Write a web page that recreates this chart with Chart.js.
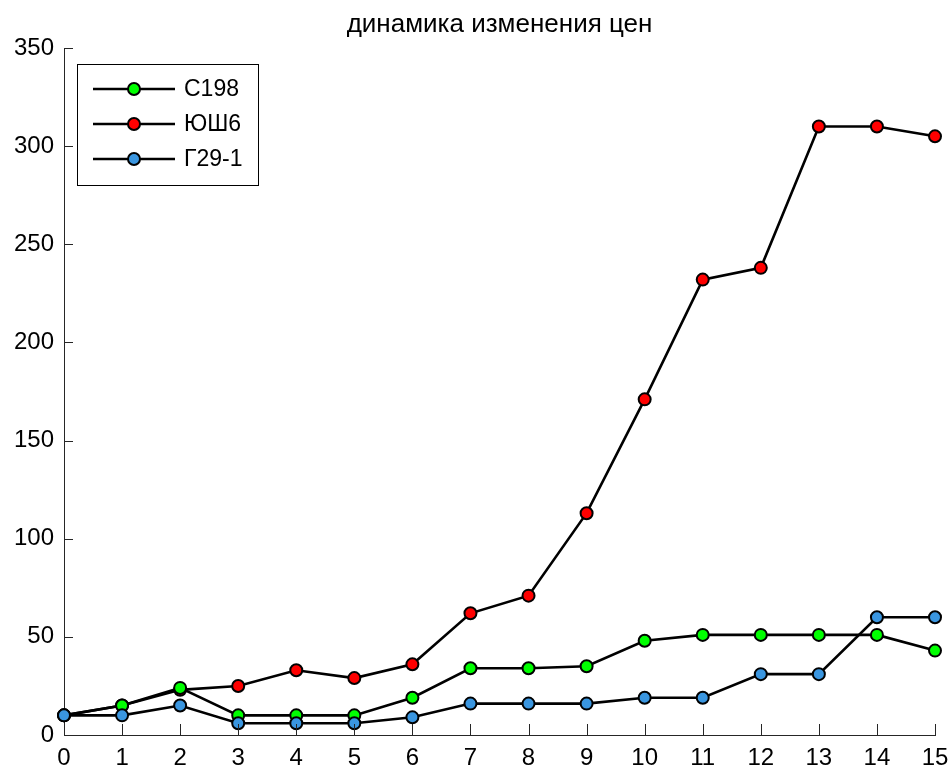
<!DOCTYPE html>
<html>
<head>
<meta charset="utf-8">
<script src="https://cdn.jsdelivr.net/npm/chart.js@4"></script>
<style>
  html, body { margin: 0; padding: 0; background: #fff; }
  #chart { display: block; }
</style>
</head>
<body>
<canvas id="chart" width="948" height="766"></canvas>
<script>
// данные графика
const titleText = 'динамика изменения цен';
const xValues = [0, 1, 2, 3, 4, 5, 6, 7, 8, 9, 10, 11, 12, 13, 14, 15];
const seriesNames = ['С198', 'ЮШ6', 'Г29-1'];
const c198 = [10, 15, 24, 10, 10, 10, 19, 34, 34, 35, 48, 51, 51, 51, 51, 43];
const yush6 = [10, 15, 23, 25, 33, 29, 36, 62, 71, 113, 171, 232, 238, 310, 310, 305];
const g29 = [10, 10, 15, 6, 6, 6, 9, 16, 16, 16, 19, 19, 31, 31, 60, 60];
const yTicks = [0, 50, 100, 150, 200, 250, 300, 350];

const markerColors = ['#00ff00', '#ff0000', '#3a96e0'];
const drawOrder = [1, 2, 0]; // синий сверху, красный снизу
const axisColor = '#262626';
const FONT = "'Liberation Sans', Arial, sans-serif";

const toPoints = arr => arr.map((v, i) => ({ x: xValues[i], y: v }));

const datasets = [c198, yush6, g29].map((arr, i) => ({
  label: seriesNames[i],
  data: toPoints(arr),
  borderColor: '#000',
  borderWidth: 2.6,
  pointRadius: 6,
  pointBorderWidth: 2,
  pointBackgroundColor: markerColors[i],
  pointBorderColor: '#000',
  order: drawOrder[i],
  clip: false,
  tension: 0
}));

// заголовок, засечки внутрь и легенда в стиле MATLAB
const matlabStyle = {
  id: 'matlabStyle',
  afterDraw(chart) {
    const ctx = chart.ctx;
    const area = chart.chartArea;
    const xs = chart.scales.x, ys = chart.scales.y;
    ctx.save();

    // заголовок
    ctx.fillStyle = '#000';
    ctx.font = '26px ' + FONT;
    ctx.textAlign = 'center';
    ctx.textBaseline = 'middle';
    ctx.fillText(titleText, (area.left + area.right) / 2, 25);

    // засечки
    ctx.strokeStyle = axisColor;
    ctx.lineWidth = 1;
    ctx.beginPath();
    xValues.forEach(v => {
      const px = Math.round(xs.getPixelForValue(v)) + 0.5;
      ctx.moveTo(px, area.bottom);
      ctx.lineTo(px, area.bottom - 11);
    });
    yTicks.forEach(v => {
      const py = Math.round(ys.getPixelForValue(v)) + 0.5;
      ctx.moveTo(area.left, py);
      ctx.lineTo(area.left + 9, py);
    });
    ctx.stroke();

    // легенда
    const bx = 77, by = 64, bw = 181, bh = 121;
    ctx.fillStyle = '#fff';
    ctx.fillRect(bx, by, bw, bh);
    ctx.strokeStyle = '#000';
    ctx.lineWidth = 1;
    ctx.strokeRect(bx + 0.5, by + 0.5, bw, bh);
    ctx.font = '23px ' + FONT;
    ctx.textAlign = 'left';
    seriesNames.forEach((name, i) => {
      const ly = by + 25 + i * 35;
      ctx.strokeStyle = '#000';
      ctx.lineWidth = 2.6;
      ctx.beginPath();
      ctx.moveTo(bx + 16, ly);
      ctx.lineTo(bx + 98, ly);
      ctx.stroke();
      ctx.beginPath();
      ctx.arc(bx + 57, ly, 6, 0, Math.PI * 2);
      ctx.fillStyle = markerColors[i];
      ctx.fill();
      ctx.lineWidth = 2;
      ctx.stroke();
      ctx.fillStyle = '#000';
      ctx.fillText(name, bx + 107, ly + 1);
    });
    ctx.restore();
  }
};

new Chart(document.getElementById('chart').getContext('2d'), {
  type: 'line',
  data: { datasets },
  plugins: [matlabStyle],
  options: {
    responsive: false,
    animation: false,
    events: [],
    layout: { padding: { left: 0, right: 0, top: 48, bottom: 0 } },
    plugins: {
      legend: { display: false },
      title: { display: false },
      tooltip: { enabled: false }
    },
    scales: {
      x: {
        type: 'linear',
        min: 0,
        max: 15,
        afterFit: s => { s.height = 31; s.paddingRight = 13; },
        afterBuildTicks: s => { s.ticks = xValues.map(v => ({ value: v })); },
        grid: { display: false, drawTicks: false },
        border: { display: true, color: axisColor, width: 1 },
        ticks: { color: '#000', padding: 9, maxRotation: 0, autoSkip: false, font: { family: FONT, size: 24 } }
      },
      y: {
        type: 'linear',
        min: 0,
        max: 350,
        afterFit: s => { s.width = 64; },
        afterBuildTicks: s => { s.ticks = yTicks.map(v => ({ value: v })); },
        grid: { display: false, drawTicks: false },
        border: { display: true, color: axisColor, width: 1 },
        ticks: { color: '#000', padding: 10, font: { family: FONT, size: 24 } }
      }
    }
  }
});
</script>
</body>
</html>
